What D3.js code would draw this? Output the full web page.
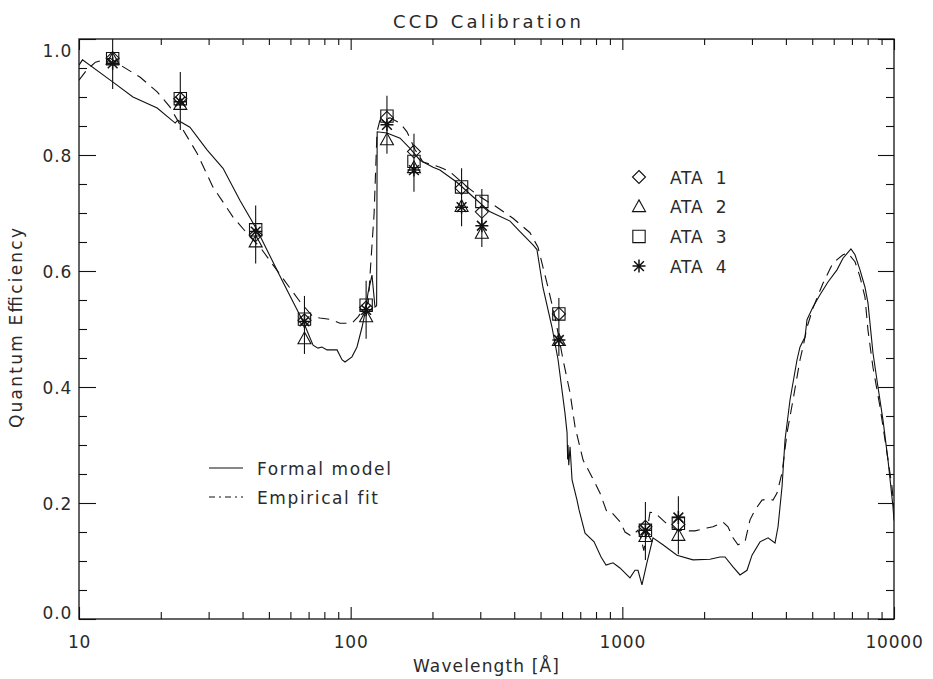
<!DOCTYPE html>
<html>
<head>
<meta charset="utf-8">
<script src="https://cdn.jsdelivr.net/npm/d3@7"></script>
<style>
  html, body { margin: 0; padding: 0; background: #fff; }
  svg { display: block; }
  text { font-family: "DejaVu Sans", "Open Sans", sans-serif; fill: #2a2a2a; }
</style>
</head>
<body>
<svg id="chart" width="933" height="679"></svg>
<script>
// ---- Measurement wavelengths (Angstrom) and quantum efficiencies per detector ----
const wavelengths = [13.3, 23.6, 44.7, 67.6, 114, 136, 171, 256, 304, 584, 1216, 1608];
const ata1 = [0.967, 0.897, 0.662, 0.515, 0.537, 0.864, 0.806, 0.743, 0.702, 0.526, 0.159, 0.163];
const ata2 = [0.965, 0.887, 0.650, 0.483, 0.521, 0.826, 0.778, 0.711, 0.665, 0.480, 0.142, 0.144];
const ata3 = [0.966, 0.897, 0.671, 0.517, 0.541, 0.867, 0.789, 0.745, 0.720, 0.526, 0.153, 0.165];
const ata4 = [0.958, 0.892, 0.668, 0.513, 0.533, 0.852, 0.774, 0.710, 0.678, 0.481, 0.153, 0.175];
const errHalf = [0.05, 0.05, 0.05, 0.05, 0.05, 0.05, 0.05, 0.05, 0.05, 0.05, 0.05, 0.05];

// ---- Formal model curve: wavelength (A) / QE ----
const modelWave = [10, 10.3, 13.3, 15.8, 19.4, 22.6, 23.1, 25.6, 29.6, 33.9, 39.1, 45.2, 55.9, 67.3, 72.7, 75.8,
  78.4, 81.8, 89.1, 92.9, 95.3, 101.1, 105.5, 110.1, 113.9, 115.8, 119.8, 122.9, 124.6, 125.2, 136, 152, 165,
  180, 201, 213, 246, 282, 326, 386, 420, 469, 485, 510, 551, 580, 615, 626, 629, 631, 635, 642, 653, 681, 693,
  729, 787, 835, 871, 924, 980, 1067, 1113, 1142, 1181, 1232, 1297, 1411, 1589, 1820, 2102, 2288, 2388, 2555,
  2711, 2877, 3002, 3212, 3439, 3648, 3742, 3871, 3971, 4143, 4396, 4509, 4703, 4784, 5032, 5341, 5715, 6168,
  6490, 6943, 7185, 7496, 7820, 8020, 8366, 8730, 9110, 9505, 9915, 10000];
const modelQE = [0.955, 0.964, 0.926, 0.900, 0.881, 0.855, 0.860, 0.848, 0.809, 0.777, 0.722, 0.671, 0.584, 0.510,
  0.472, 0.467, 0.469, 0.464, 0.464, 0.447, 0.443, 0.452, 0.469, 0.503, 0.536, 0.562, 0.593, 0.538, 0.540, 0.840,
  0.838, 0.829, 0.812, 0.791, 0.779, 0.774, 0.753, 0.728, 0.702, 0.686, 0.668, 0.645, 0.637, 0.572, 0.503, 0.447,
  0.355, 0.321, 0.275, 0.300, 0.265, 0.297, 0.240, 0.205, 0.188, 0.148, 0.133, 0.107, 0.093, 0.097, 0.088, 0.071,
  0.084, 0.084, 0.059, 0.097, 0.140, 0.128, 0.110, 0.102, 0.103, 0.107, 0.107, 0.090, 0.076, 0.084, 0.110, 0.133,
  0.140, 0.131, 0.159, 0.228, 0.309, 0.378, 0.447, 0.469, 0.486, 0.516, 0.538, 0.559, 0.581, 0.602, 0.622, 0.638,
  0.628, 0.602, 0.572, 0.545, 0.459, 0.400, 0.343, 0.274, 0.193, 0.170];

// ---- Empirical fit curve: wavelength (A) / QE ----
const fitWave = [10, 10.7, 11.5, 13.0, 14.2, 16.8, 19.4, 21.6, 23.9, 27.2, 31.1, 36.9, 42.6, 46.4, 65.1, 72.7, 77.1,
  85.4, 91.3, 101.1, 106.4, 116, 122, 125, 128.2, 139.6, 151.9, 161.2, 172.6, 184.6, 213.2, 232.1, 268.1, 299.2,
  345.6, 395.8, 457.1, 489.3, 528, 565, 605, 642, 670, 717, 773, 828, 878, 916, 980, 1023, 1080, 1142, 1170, 1200,
  1232, 1264, 1319, 1435, 1589, 1730, 1851, 2049, 2157, 2347, 2449, 2555, 2665, 2828, 2951, 3079, 3267, 3439, 3586,
  3710, 3871, 4039, 4250, 4509, 4624, 4784, 5032, 5478, 5962, 6490, 6768, 7185, 7496, 7820, 8020, 8366, 8880, 9424,
  9832, 10000];
const fitQE = [0.929, 0.947, 0.960, 0.967, 0.955, 0.934, 0.909, 0.883, 0.847, 0.803, 0.745, 0.693, 0.659, 0.641,
  0.547, 0.521, 0.519, 0.516, 0.510, 0.510, 0.521, 0.545, 0.700, 0.840, 0.860, 0.864, 0.855, 0.840, 0.809, 0.788,
  0.779, 0.771, 0.745, 0.728, 0.710, 0.691, 0.666, 0.641, 0.579, 0.521, 0.447, 0.390, 0.331, 0.274, 0.245, 0.217,
  0.184, 0.183, 0.168, 0.150, 0.143, 0.153, 0.140, 0.118, 0.150, 0.184, 0.183, 0.167, 0.153, 0.152, 0.152, 0.157,
  0.159, 0.167, 0.159, 0.140, 0.128, 0.133, 0.171, 0.188, 0.205, 0.207, 0.205, 0.217, 0.252, 0.321, 0.378, 0.447,
  0.469, 0.503, 0.536, 0.579, 0.614, 0.628, 0.631, 0.616, 0.590, 0.555, 0.498, 0.434, 0.366, 0.286, 0.228, 0.190];

// ---- Axis tick values and labels ----
const xMajorTicks = [10, 100, 1000, 10000];
const xTickLabels = ["10", "100", "1000", "10000"];
const yMajorTicks = [0, 0.2, 0.4, 0.6, 0.8, 1.0];
const yTickLabels = ["0.0", "0.2", "0.4", "0.6", "0.8", "1.0"];
const seriesNames = ["ATA 1", "ATA 2", "ATA 3", "ATA 4"];
const lineNames = ["Formal model", "Empirical fit"];

// ---- Layout ----
const L = 79, R = 894, T = 39, B = 619;
const svg = d3.select("#chart");
const x = d3.scaleLog().domain([10, 10000]).range([L, R]);
const y = d3.scaleLinear().domain([0, 1]).range([B, T]);

const xMinor = [];
[10, 100, 1000].forEach(d => { for (let k = 2; k <= 9; k++) xMinor.push(d * k); });
const yMinor = d3.range(0, 1.0001, 0.05).filter(v => Math.abs(v * 5 - Math.round(v * 5)) > 1e-6);

const ink = "#111";
function styleAxis(g) {
  g.select(".domain").remove();
  g.selectAll(".tick line").attr("stroke", ink).attr("stroke-width", 1.1);
  g.selectAll(".tick text").style("font-size", "17px").style("letter-spacing", "0.8px").attr("fill", "#2a2a2a");
}

// bottom axis
svg.append("g").attr("transform", `translate(0,${B})`)
  .call(d3.axisBottom(x).tickValues(xMajorTicks).tickSize(-12).tickPadding(17)
    .tickFormat((d, i) => xTickLabels[i])).call(styleAxis);
svg.append("g").attr("transform", `translate(0,${B})`)
  .call(d3.axisBottom(x).tickValues(xMinor).tickSize(-7).tickFormat("")).call(styleAxis);
// top axis
svg.append("g").attr("transform", `translate(0,${T})`)
  .call(d3.axisTop(x).tickValues(xMajorTicks).tickSize(-11).tickFormat("")).call(styleAxis);
svg.append("g").attr("transform", `translate(0,${T})`)
  .call(d3.axisTop(x).tickValues(xMinor).tickSize(-6).tickFormat("")).call(styleAxis);
// left axis
const yl = svg.append("g").attr("transform", `translate(${L},0)`)
  .call(d3.axisLeft(y).tickValues(yMajorTicks).tickSize(-17).tickPadding(7)
    .tickFormat((d, i) => yTickLabels[i])).call(styleAxis);
yl.selectAll(".tick text").attr("dy", (d) => d === 1 ? "1.05em" : (d === 0 ? "-0.05em" : "0.36em"));
svg.append("g").attr("transform", `translate(${L},0)`)
  .call(d3.axisLeft(y).tickValues(yMinor).tickSize(-8).tickFormat("")).call(styleAxis);
// right axis
svg.append("g").attr("transform", `translate(${R},0)`)
  .call(d3.axisRight(y).tickValues(yMajorTicks).tickSize(-16).tickFormat("")).call(styleAxis);
svg.append("g").attr("transform", `translate(${R},0)`)
  .call(d3.axisRight(y).tickValues(yMinor).tickSize(-8).tickFormat("")).call(styleAxis);

// frame
svg.append("rect").attr("x", L).attr("y", T).attr("width", R - L).attr("height", B - T)
  .attr("fill", "none").attr("stroke", ink).attr("stroke-width", 1.3);

// titles
svg.append("text").attr("x", 487).attr("y", 28).attr("text-anchor", "middle")
  .attr("textLength", 188).attr("lengthAdjust", "spacing")
  .style("font-size", "18px").text("CCD Calibration");
svg.append("text").attr("x", 486).attr("y", 672).attr("text-anchor", "middle")
  .attr("textLength", 146).attr("lengthAdjust", "spacing")
  .style("font-size", "17px").text("Wavelength [Å]");
svg.append("text").attr("transform", "translate(22,328) rotate(-90)").attr("text-anchor", "middle")
  .attr("textLength", 200).attr("lengthAdjust", "spacing")
  .style("font-size", "17px").text("Quantum Efficiency");

// clip region for curves
svg.append("clipPath").attr("id", "plotclip").append("rect")
  .attr("x", L).attr("y", T).attr("width", R - L).attr("height", B - T);

const line = d3.line().x(d => x(d[0])).y(d => y(d[1]));
const plot = svg.append("g").attr("clip-path", "url(#plotclip)");

plot.append("path").datum(modelWave.map((w, i) => [w, modelQE[i]]))
  .attr("d", line).attr("fill", "none").attr("stroke", ink).attr("stroke-width", 1.1);
plot.append("path").datum(fitWave.map((w, i) => [w, fitQE[i]]))
  .attr("d", line).attr("fill", "none").attr("stroke", ink).attr("stroke-width", 1.1)
  .attr("stroke-dasharray", "11,7");

// marker shapes (IDL-style psym 4, 5, 6, 2)
const r = 6.5;
const markerPaths = [
  `M0,${-r}L${r},0L0,${r}L${-r},0Z`,
  `M0,${-r * 1.05}L${r},${r * 0.75}L${-r},${r * 0.75}Z`,
  `M${-r * 0.95},${-r * 0.95}H${r * 0.95}V${r * 0.95}H${-r * 0.95}Z`,
  `M0,${-r}V${r}M${-r},0H${r}M${-r * 0.75},${-r * 0.75}L${r * 0.75},${r * 0.75}M${-r * 0.75},${r * 0.75}L${r * 0.75},${-r * 0.75}`
];
const seriesVals = [ata1, ata2, ata3, ata4];

// error bars centred on the mean of the four detectors
const errG = plot.append("g");
wavelengths.forEach((w, i) => {
  const m = d3.mean(seriesVals, s => s[i]);
  errG.append("line").attr("x1", x(w)).attr("x2", x(w))
    .attr("y1", y(m + errHalf[i])).attr("y2", y(m - errHalf[i]))
    .attr("stroke", ink).attr("stroke-width", 1.1);
});

const markG = svg.append("g");
seriesVals.forEach((vals, s) => {
  markG.selectAll(null).data(wavelengths.map((w, i) => [w, vals[i]])).join("path")
    .attr("transform", d => `translate(${x(d[0])},${y(d[1])})`)
    .attr("d", markerPaths[s]).attr("fill", "none").attr("stroke", ink)
    .attr("stroke-width", s === 3 ? 1.5 : 1.1);
});

// symbol legend
const legY0 = 177, legDY = 29.7;
seriesNames.forEach((name, s) => {
  const ly = legY0 + s * legDY;
  svg.append("path").attr("transform", `translate(639,${ly})`).attr("d", markerPaths[s])
    .attr("fill", "none").attr("stroke", ink).attr("stroke-width", s === 3 ? 1.5 : 1.1);
  svg.append("text").attr("x", 670).attr("y", ly + 6.5).style("font-size", "17px")
    .style("white-space", "pre").style("letter-spacing", "0.8px").text(name.replace(" ", "  "));
});

// line-style legend
lineNames.forEach((name, k) => {
  const ly = 468 + k * 29;
  svg.append("line").attr("x1", 209).attr("x2", 243).attr("y1", ly).attr("y2", ly)
    .attr("stroke", ink).attr("stroke-width", 1.1)
    .attr("stroke-dasharray", k === 1 ? "6,4,2,4" : null);
  svg.append("text").attr("x", 257).attr("y", ly + 6.5).style("font-size", "17px")
    .style("letter-spacing", "1.6px").text(name);
});
</script>
</body>
</html>
